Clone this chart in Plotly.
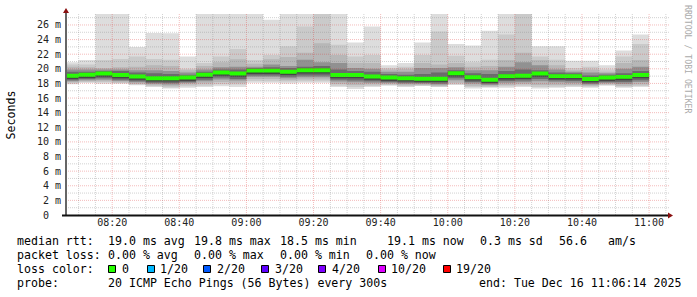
import plotly.graph_objects as go
import pandas as pd

# ---------------- data (ms) ----------------
bin_start = pd.date_range("2025-12-16 08:05:00", periods=35, freq="5min")

median = [19.05, 19.2, 19.35, 19.15, 18.95, 18.7, 18.7, 18.8, 19.2, 19.5, 19.35, 19.75, 19.75, 19.6, 19.8,
          19.8, 19.15, 19.15, 18.95, 18.8, 18.7, 18.65, 18.65, 19.4, 18.85, 18.5, 19.0, 19.05, 19.35, 19.0,
          19.0, 18.6, 18.8, 18.9, 19.15]
ping20 = [20.9, 21.2, 28.0, 28.0, 23.0, 24.9, 24.85, 21.7, 28.0, 28.0, 28.0, 28.0, 26.7, 28.0, 28.0,
          28.0, 28.0, 23.6, 25.8, 20.5, 20.8, 23.6, 28.0, 23.4, 23.2, 25.2, 28.0, 28.0, 23.1, 23.1,
          21.1, 21.1, 20.5, 22.5, 24.7]
ping19 = [20.6, 20.6, 21.2, 21.35, 21.7, 21.35, 21.25, 20.0, 20.8, 21.7, 22.7, 21.2, 21.9, 23.1, 25.8,
          28.0, 23.3, 21.7, 21.9, 20.1, 20.3, 21.9, 25.1, 21.8, 20.9, 21.25, 24.7, 28.0, 21.7, 21.25,
          20.1, 20.3, 19.9, 21.7, 23.4]
ping18 = [20.3, 20.2, 20.1, 20.2, 20.3, 20.5, 20.4, 19.8, 20.4, 20.9, 21.3, 20.7, 21.3, 21.6, 22.2,
          23.5, 21.9, 20.8, 20.8, 19.9, 20.0, 20.8, 20.6, 20.8, 20.3, 20.4, 21.2, 22.2, 21.2, 20.5,
          19.8, 19.9, 19.6, 20.8, 21.2]
ping16 = [19.9, 19.9, 19.9, 19.9, 19.8, 19.8, 19.7, 19.5, 19.9, 20.2, 20.3, 20.3, 20.6, 20.4, 21.25,
          20.9, 20.8, 20.1, 20.0, 19.6, 19.6, 20.1, 20.1, 20.2, 19.8, 19.8, 20.3, 20.9, 20.5, 19.9,
          19.6, 19.5, 19.4, 20.0, 20.3]
ping14 = [19.6, 19.6, 19.7, 19.7, 19.5, 19.4, 19.3, 19.2, 19.6, 19.9, 19.9, 20.1, 20.2, 20.1, 20.3,
          20.4, 19.9, 19.7, 19.6, 19.3, 19.2, 19.3, 19.5, 19.8, 19.4, 19.3, 19.7, 19.9, 19.8, 19.5,
          19.4, 19.1, 19.2, 19.4, 19.7]
ping12 = [19.3, 19.4, 19.55, 19.35, 19.15, 18.9, 18.9, 19.0, 19.4, 19.7, 19.55, 19.95, 19.95, 19.8, 20.0,
          20.0, 19.35, 19.35, 19.15, 19.0, 18.9, 18.85, 18.85, 19.6, 19.05, 18.75, 19.2, 19.25, 19.55, 19.2,
          19.2, 18.8, 19.0, 19.1, 19.35]
ping09 = [18.6, 18.75, 18.9, 18.7, 18.5, 18.25, 18.25, 18.35, 18.75, 19.05, 18.9, 19.3, 19.3, 19.15, 19.35,
          19.35, 18.7, 18.7, 18.5, 18.35, 18.25, 18.2, 18.2, 18.95, 18.4, 18.05, 18.55, 18.6, 18.9, 18.55,
          18.55, 18.15, 18.35, 18.45, 18.7]
ping07 = [18.45, 18.6, 18.7, 18.5, 18.3, 18.1, 18.05, 18.2, 18.5, 18.8, 18.6, 19.1, 19.1, 18.9, 19.1,
          19.1, 18.5, 18.4, 18.3, 18.2, 18.1, 18.05, 18.0, 18.7, 18.2, 17.95, 18.35, 18.4, 18.6, 18.4,
          18.35, 18.0, 18.2, 18.2, 18.45]
ping05 = [18.3, 18.45, 18.5, 18.35, 18.15, 17.95, 17.85, 18.05, 18.3, 18.55, 18.4, 18.9, 18.9, 18.7, 18.85,
          18.85, 18.25, 18.15, 18.1, 18.05, 17.95, 17.95, 17.85, 18.45, 18.0, 17.8, 18.1, 18.15, 18.3, 18.15,
          18.1, 17.85, 18.05, 17.95, 18.2]
ping03 = [18.15, 18.3, 18.3, 18.15, 17.95, 17.75, 17.6, 17.85, 18.0, 18.2, 18.1, 18.6, 18.6, 18.45, 18.55,
          18.55, 17.95, 17.8, 17.85, 17.9, 17.75, 17.8, 17.7, 18.1, 17.7, 17.6, 17.8, 17.9, 17.8, 17.8,
          17.8, 17.7, 17.9, 17.7, 17.85]
ping02 = [18.0, 18.2, 18.15, 18.05, 17.85, 17.6, 17.45, 17.6, 17.7, 17.9, 17.85, 18.35, 18.3, 18.25, 18.3,
          18.3, 17.7, 17.5, 17.65, 17.8, 17.6, 17.7, 17.55, 17.9, 17.5, 17.5, 17.6, 17.7, 17.5, 17.55,
          17.6, 17.55, 17.8, 17.55, 17.65]
ping01 = [17.9, 18.05, 17.95, 17.95, 17.75, 17.5, 17.3, 17.4, 17.5, 17.6, 17.5, 18.1, 18.1, 18.0, 18.1,
          18.1, 17.5, 17.25, 17.5, 17.7, 17.5, 17.65, 17.5, 17.8, 17.3, 17.4, 17.4, 17.5, 17.3, 17.4,
          17.5, 17.4, 17.7, 17.4, 17.5]

ytick_vals = [0, 2, 4, 6, 8, 10, 12, 14, 16, 18, 20, 22, 24, 26]
ytick_labels = ["0\u00a0\u00a0", "2\u00a0m", "4\u00a0m", "6\u00a0m", "8\u00a0m", "10\u00a0m", "12\u00a0m",
                "14\u00a0m", "16\u00a0m", "18\u00a0m", "20\u00a0m", "22\u00a0m", "24\u00a0m", "26\u00a0m"]

loss_labels = ["0", "1/20", "2/20", "3/20", "4/20", "10/20", "19/20"]
loss_colors = ["#26ff00", "#00b8ff", "#0059ff", "#5e00ff", "#7e00ff", "#dd00ff", "#ff0000"]

# ---------------- geometry / style ----------------
W, H = 697, 297
L, R, T, Bm = 66, 27, 14, 82
PW, PH = W - L - R, H - T - Bm
PB = T + PH
YMAX = 27.5
T_START = "2025-12-16 08:06:14"
T_END = "2025-12-16 11:06:14"
MONO = "DejaVu Sans Mono"
MED_HALF = 0.27
GRID_MAJOR = "rgba(222,48,48,0.32)"
GRID_MINOR = "rgba(130,130,130,0.36)"


def pxx(x):
    return (x - L) / PW


def pxy(y):
    return (PB - y) / PH


step = pd.Timedelta(minutes=5)
xs = [t.strftime("%Y-%m-%d %H:%M:%S") for t in list(bin_start) + [bin_start[-1] + step]]


def stepped(v):
    return list(v) + [v[-1]]


fig = go.Figure()
bands = [
    (ping01, ping20, "#dddddd"),
    (ping02, ping19, "#cacaca"),
    (ping03, ping18, "#b7b7b7"),
    (ping05, ping16, "#919191"),
    (ping07, ping14, "#6b6b6b"),
    (ping09, ping12, "#454545"),
    ([m - MED_HALF for m in median], [m + MED_HALF for m in median], loss_colors[0]),
]
for lo, hi, col in bands:
    fig.add_trace(go.Scatter(x=xs, y=stepped(lo), mode="lines", line=dict(width=0, shape="hv"),
                             hoverinfo="skip", showlegend=False))
    fig.add_trace(go.Scatter(x=xs, y=stepped(hi), mode="lines", line=dict(width=0, shape="hv"),
                             fill="tonexty", fillcolor=col, hoverinfo="skip", showlegend=False))

shapes = []
# dotted grid drawn above the smoke (as rrdtool does)
gt = pd.Timestamp("2025-12-16 08:10:00")
while gt <= pd.Timestamp("2025-12-16 11:05:00"):
    major = gt.minute % 20 == 0
    s = gt.strftime("%Y-%m-%d %H:%M:%S")
    shapes.append(dict(type="line", xref="x", yref="paper", x0=s, x1=s, y0=0, y1=pxy(13),
                       line=dict(color=GRID_MAJOR if major else GRID_MINOR, width=1, dash="1px,1px"),
                       layer="above"))
    gt += step
for v in range(1, 28):
    major = v % 2 == 0
    shapes.append(dict(type="line", xref="paper", yref="y", x0=0, x1=1, y0=v, y1=v,
                       line=dict(color=GRID_MAJOR if major else GRID_MINOR, width=1, dash="1px,1px"),
                       layer="above"))
# axes
shapes.append(dict(type="line", xref="paper", yref="paper", x0=pxx(66), x1=pxx(66), y0=pxy(216), y1=pxy(11),
                   line=dict(color="#666666", width=2), layer="above"))
shapes.append(dict(type="line", xref="paper", yref="paper", x0=pxx(62), x1=pxx(669), y0=pxy(215.5), y1=pxy(215.5),
                   line=dict(color="#111111", width=2), layer="above"))
# arrows
shapes.append(dict(type="path", xref="paper", yref="paper",
                   path=f"M {pxx(63)} {pxy(13)} L {pxx(69)} {pxy(13)} L {pxx(66)} {pxy(8)} Z",
                   fillcolor="#8a1010", line=dict(width=0), layer="above"))
shapes.append(dict(type="path", xref="paper", yref="paper",
                   path=f"M {pxx(668)} {pxy(212.5)} L {pxx(668)} {pxy(218.5)} L {pxx(673)} {pxy(215.5)} Z",
                   fillcolor="#8a1010", line=dict(width=0), layer="above"))

annotations = []


def txt(x, y, s, size=11.6, color="#000000", angle=0, xanchor="left"):
    annotations.append(dict(x=pxx(x), y=pxy(y), xref="paper", yref="paper", text=s, showarrow=False,
                            xanchor=xanchor, yanchor="middle", textangle=angle, borderpad=0,
                            font=dict(family=MONO, size=size, color=color)))


txt(10.5, 115, "Seconds", angle=-90, xanchor="center")
txt(688, 59, "RRDTOOL / TOBI OETIKER", size=8.2, color="#aaaaaa", angle=90, xanchor="center")

# legend rows
txt(15.5, 241, "median rtt:")
txt(106.5, 241, "19.0 ms avg")
txt(192.5, 241, "19.8 ms max")
txt(278.5, 241, "18.5 ms min")
txt(386, 241, "19.1 ms now")
txt(478.5, 241, "0.3 ms sd")
txt(557.5, 241, "56.6")
txt(607, 241, "am/s")

txt(15.5, 255, "packet loss:")
txt(106.5, 255, "0.00 % avg")
txt(192.5, 255, "0.00 % max")
txt(278.5, 255, "0.00 % min")
txt(364.5, 255, "0.00 % now")

txt(15.5, 269, "loss color:")
box_x = [108, 147, 203, 261, 318, 378, 443]
lab_x = [121.5, 159, 216.5, 274, 331.5, 390, 455]
for bx, lx, lab, col in zip(box_x, lab_x, loss_labels, loss_colors):
    shapes.append(dict(type="rect", xref="paper", yref="paper", x0=pxx(bx + 0.5), x1=pxx(bx + 7.5),
                       y0=pxy(272.5), y1=pxy(265.5), fillcolor=col, line=dict(color="#000000", width=1)))
    txt(lx - 0.5, 269, lab)

txt(15.5, 283, "probe:")
txt(106.5, 283, "20 ICMP Echo Pings (56 Bytes) every 300s")
txt(478, 283, "end: Tue Dec 16 11:06:14 2025")

fig.update_layout(
    width=W, height=H,
    margin=dict(l=L, r=R, t=T, b=Bm, pad=0),
    paper_bgcolor="#ffffff", plot_bgcolor="#ffffff",
    showlegend=False,
    shapes=shapes, annotations=annotations,
    xaxis=dict(type="date", range=[T_START, T_END],
               tickformat="%H:%M", tick0="2025-12-16 08:00:00", dtick=1200000,
               showgrid=False, zeroline=False, showline=False, ticks="",
               tickfont=dict(family=MONO, size=10, color="#222222")),
    yaxis=dict(range=[0, YMAX], tickmode="array", tickvals=ytick_vals, ticktext=ytick_labels,
               showgrid=False, zeroline=False, showline=False, ticks="", ticklabelstandoff=4,
               tickfont=dict(family=MONO, size=10, color="#222222")),
)

fig.write_html("out.html")
